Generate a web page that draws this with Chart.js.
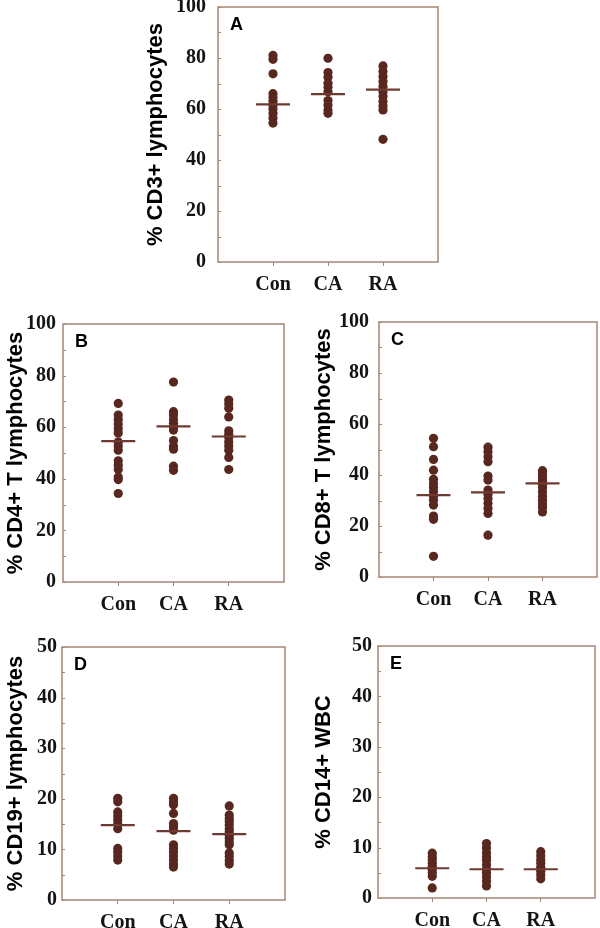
<!DOCTYPE html>
<html><head><meta charset="utf-8">
<script src="https://cdn.jsdelivr.net/npm/chart.js@4"></script>
<style>
html,body{margin:0;padding:0;background:#fff;width:600px;height:928px;overflow:hidden;position:relative}
canvas{position:absolute}
</style></head><body>
<canvas id="cA" width="320" height="300" style="left:130px;top:0px"></canvas>
<canvas id="cB" width="300" height="317" style="left:0px;top:305px"></canvas>
<canvas id="cC" width="300" height="317" style="left:300px;top:305px"></canvas>
<canvas id="cD" width="300" height="301" style="left:0px;top:627px"></canvas>
<canvas id="cE" width="300" height="302" style="left:300px;top:626px"></canvas>
<script>
const groups = ["Con", "CA", "RA"];
const yTicks100 = [0, 20, 40, 60, 80, 100];
const yTicks50 = [0, 10, 20, 30, 40, 50];

// A: % CD3+ lymphocytes
const cd3Con = [81, 79.5, 73.8, 66, 64.5, 63, 61.5, 60, 58.3, 56.5, 54.5];
const cd3CA = [79.9, 74.3, 72.5, 70.1, 68.5, 66.8, 63.3, 61.6, 59.6, 58.3];
const cd3RA = [76.9, 74.7, 72.7, 70.8, 68.8, 66.8, 64.9, 62.9, 61.2, 59.6, 48.1];
const cd3Mean = [61.8, 65.8, 67.6];

// B: % CD4+ T lymphocytes
const cd4Con = [69.2, 64.7, 63.0, 61.2, 59.5, 57.8, 54.3, 52.7, 51.1, 47.0, 45.3, 43.6, 40.7, 39.7, 34.3];
const cd4CA = [77.5, 66.0, 64.7, 63.0, 61.5, 60.1, 58.9, 54.8, 52.7, 51.5, 44.9, 43.3];
const cd4RA = [70.5, 69.0, 67.3, 64.0, 58.6, 57.3, 56.0, 54.3, 52.7, 51.1, 48.3, 43.6];
const cd4Mean = [54.6, 60.3, 56.4];

// C: % CD8+ T lymphocytes
const cd8Con = [54.4, 51.1, 46.1, 41.9, 38.3, 36.7, 35.1, 33.4, 31.7, 30.1, 28.2, 23.9, 22.6, 8.1];
const cd8CA = [50.9, 49.1, 47.2, 45.2, 39.6, 38.0, 34.1, 32.5, 30.8, 28.9, 26.9, 24.9, 16.4];
const cd8RA = [41.7, 40.4, 39.1, 37.7, 36.4, 35.1, 33.4, 31.7, 30.1, 28.6, 27.3, 25.5];
const cd8Mean = [32.1, 33.2, 36.7];

// D: % CD19+ lymphocytes
const cd19Con = [20.1, 19.4, 17.4, 16.6, 15.8, 15.0, 14.1, 10.2, 9.5, 8.7, 7.9];
const cd19CA = [20.1, 19.4, 18.8, 17.1, 15.1, 14.5, 13.8, 10.9, 10.2, 9.5, 8.7, 7.9, 7.1, 6.5];
const cd19RA = [18.6, 16.8, 16.1, 15.5, 14.8, 14.1, 13.5, 12.8, 12.2, 11.5, 10.9, 9.3, 8.6, 7.8, 7.1];
const cd19Mean = [14.8, 13.6, 13.0];

// E: % CD14+ WBC
const cd14Con = [8.9, 8.2, 7.6, 6.9, 6.3, 5.6, 5.0, 4.3, 2.0];
const cd14CA = [10.8, 9.9, 9.0, 8.2, 7.5, 6.6, 5.7, 5.0, 4.2, 3.3, 2.4];
const cd14RA = [9.2, 8.4, 7.6, 6.9, 6.1, 5.3, 4.6, 3.8];
const cd14Mean = [5.9, 5.7, 5.7];

const DOT = '#58271f';
const MEANC = '#6f3a30';
const FRAME = '#a48676';
const TXT = '#141414';

const framePlugin = {
  id: 'frame',
  beforeDatasetsDraw(chart, args, opts) {
    const {ctx, chartArea: a} = chart;
    const ys = chart.scales.y;
    ctx.save();
    ctx.strokeStyle = FRAME;
    ctx.lineWidth = 1.5;
    ctx.strokeRect(a.left, a.top, a.right - a.left, a.bottom - a.top);
    ctx.lineWidth = 1;
    for (let v = ys.min; v <= ys.max + 1e-9; v += opts.minor) {
      const py = Math.round(ys.getPixelForValue(v)) + 0.5;
      ctx.beginPath();
      ctx.moveTo(a.left, py);
      ctx.lineTo(a.left + 3, py);
      ctx.stroke();
    }
    ctx.restore();
  },
  afterDraw(chart, args, opts) {
    const {ctx, chartArea: a} = chart;
    ctx.save();
    ctx.fillStyle = '#000';
    ctx.font = 'bold 18px "Liberation Sans", Arial, sans-serif';
    ctx.textBaseline = 'top';
    ctx.textAlign = 'left';
    ctx.fillText(opts.letter, a.left + 12, a.top + 9);
    ctx.restore();
  }
};

function makePanel(id, letter, title, series, means, ticks, minor, geo) {
  const dots = [];
  series.forEach((arr, gi) => arr.forEach(v => dots.push({x: gi + 1, y: v})));
  const meanPts = means.map((m, gi) => ({x: gi + 1, y: m}));
  new Chart(document.getElementById(id), {
    type: 'scatter',
    data: {
      datasets: [
        {data: meanPts, pointStyle: 'line', radius: 17, borderWidth: 2.2, borderColor: MEANC, backgroundColor: MEANC, showLine: false},
        {data: dots, pointStyle: 'circle', radius: 4.6, borderWidth: 0, backgroundColor: DOT, borderColor: DOT, showLine: false}
      ]
    },
    options: {
      responsive: false, devicePixelRatio: 1, animation: false,
      layout: {padding: geo.pad, autoPadding: false},
      plugins: {legend: {display: false}, tooltip: {enabled: false}, frame: {letter: letter, minor: minor}},
      scales: {
        x: {
          type: 'linear', min: 0, max: 4,
          afterBuildTicks: s => { s.ticks = groups.map((g, i) => ({value: i + 1})); },
          afterFit: s => { s.height = geo.xh; s.paddingLeft = 0; s.paddingRight = 0; },
          ticks: {autoSkip: false, maxRotation: 0, padding: 7, color: TXT,
            font: {family: '"Liberation Serif", "Times New Roman", serif', weight: 'bold', size: 20},
            callback: v => groups[v - 1] || ''},
          grid: {drawOnChartArea: false, drawTicks: true, tickLength: 4, color: FRAME},
          border: {display: false}
        },
        y: {
          type: 'linear', min: ticks[0], max: ticks[ticks.length - 1],
          afterBuildTicks: s => { s.ticks = ticks.map(v => ({value: v})); },
          afterFit: s => { s.width = geo.yw; s.paddingTop = 0; s.paddingBottom = 0; },
          ticks: {padding: geo.tp, color: TXT,
            font: {family: '"Liberation Serif", "Times New Roman", serif', weight: 'bold', size: 20}},
          grid: {display: false, drawTicks: false},
          border: {display: false},
          title: {display: true, text: title, color: '#000', padding: {top: geo.ttop, bottom: 0},
            font: {family: '"Liberation Sans", Arial, sans-serif', weight: 'bold', size: 22}}
        }
      }
    },
    plugins: [framePlugin]
  });
}

makePanel('cA', 'A', '% CD3+ lymphocytes', [cd3Con, cd3CA, cd3RA], cd3Mean, yTicks100, 10,
  {pad: {top: 7, right: 12, bottom: 0, left: 0}, yw: 88, xh: 38, tp: 12, ttop: 13});
makePanel('cB', 'B', '% CD4+ T lymphocytes', [cd4Con, cd4CA, cd4RA], cd4Mean, yTicks100, 10,
  {pad: {top: 19, right: 16, bottom: 0, left: 0}, yw: 63, xh: 40, tp: 7, ttop: 3});
makePanel('cC', 'C', '% CD8+ T lymphocytes', [cd8Con, cd8CA, cd8RA], cd8Mean, yTicks100, 10,
  {pad: {top: 17, right: 3, bottom: 0, left: 0}, yw: 79, xh: 45, tp: 10, ttop: 11});
makePanel('cD', 'D', '% CD19+ lymphocytes', [cd19Con, cd19CA, cd19RA], cd19Mean, yTicks50, 5,
  {pad: {top: 20, right: 15, bottom: 0, left: 0}, yw: 62, xh: 28, tp: 5, ttop: 3});
makePanel('cE', 'E', '% CD14+ WBC', [cd14Con, cd14CA, cd14RA], cd14Mean, yTicks50, 5,
  {pad: {top: 20, right: 5, bottom: 0, left: 0}, yw: 78, xh: 30, tp: 6, ttop: 11});
</script>
</body></html>
